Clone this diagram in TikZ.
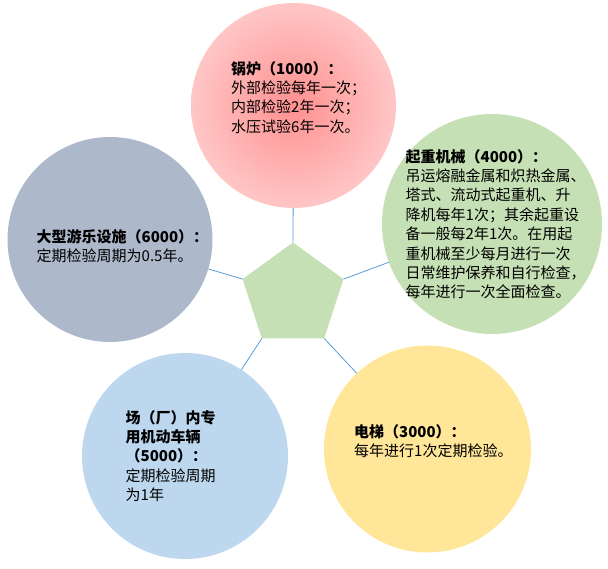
\documentclass[tikz,border=0pt]{standalone}
\usepackage{fontspec}
\setmainfont{Noto Sans CJK SC}
\usetikzlibrary{shapes.geometric}
\definecolor{cgreen}{HTML}{C5E0B4}
\definecolor{cgray}{HTML}{ADB9CA}
\definecolor{cblue}{HTML}{BDD7EE}
\definecolor{cyellow}{HTML}{FFE699}
\definecolor{cline}{HTML}{5B9BD5}
\definecolor{pinkin}{HTML}{FF9090}
\definecolor{pinkout}{HTML}{FFC6C6}
\tikzset{
  bubble/.style={circle, inner sep=0pt, outer sep=0pt},
  txt/.style={anchor=north west, inner sep=0pt, align=left, font=\fontsize{15}{19.4}\selectfont},
  link/.style={draw=cline, line width=0.8pt}
}
\begin{document}
\begin{tikzpicture}[x=1pt,y=-1pt]
\useasboundingbox (0,0) rectangle (608,569);
\node[bubble, minimum size=205pt, inner color=pinkin, outer color=pinkout] (boiler) at (293.5,105.5) {};
\node[bubble, minimum size=220pt, fill=cgreen] (crane) at (492,224) {};
\node[bubble, minimum size=205pt, fill=cgray] (ride) at (110,239.5) {};
\node[bubble, minimum size=206pt, fill=cblue] (vehicle) at (185,456) {};
\node[bubble, minimum size=207pt, fill=cyellow] (lift) at (427.5,449) {};
\node[regular polygon, regular polygon sides=5, minimum size=106pt, inner sep=0pt, outer sep=0pt, fill=cgreen] (pent) at (293,295.5) {};
\draw[link] (pent.corner 1) -- (boiler);
\draw[link] (pent.corner 2) -- (ride);
\draw[link] (pent.corner 3) -- (vehicle);
\draw[link] (pent.corner 4) -- (lift);
\draw[link] (pent.corner 5) -- (crane);
\node[txt] (tboiler) at (231,61) {\textbf{锅炉（1000）：}\\外部检验每年一次；\\内部检验2年一次；\\水压试验6年一次。};
\node[txt] (tcrane) at (405.5,149) {\textbf{起重机械（4000）：}\\吊运熔融金属和炽热金属、\\塔式、流动式起重机、升\\降机每年1次；其余起重设\\备一般每2年1次。在用起\\重机械至少每月进行一次\\日常维护保养和自行检查，\\每年进行一次全面检查。};
\node[txt] (tride) at (36.5,229) {\textbf{大型游乐设施（6000）：}\\定期检验周期为0.5年。};
\node[txt] (tvehicle) at (125.5,410) {\textbf{场（厂）内专}\\\textbf{用机动车辆}\\\textbf{（5000）：}\\定期检验周期\\为1年};
\node[txt] (tlift) at (354,424) {\textbf{电梯（3000）：}\\每年进行1次定期检验。};
\end{tikzpicture}
\end{document}
